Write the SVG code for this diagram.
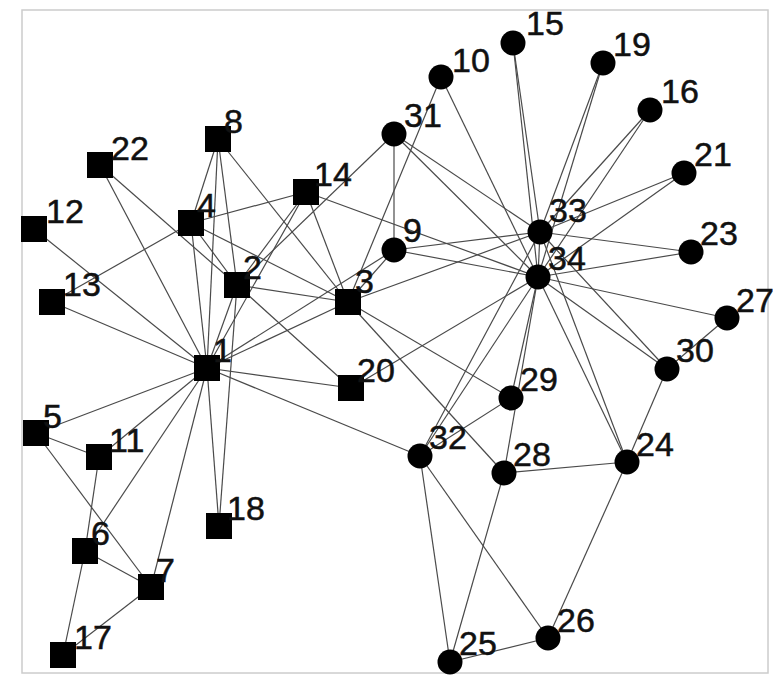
<svg xmlns="http://www.w3.org/2000/svg" width="773" height="675" viewBox="0 0 773 675">
<style>
.e{stroke:#4a4a4a;stroke-width:1.2;fill:none}
.s{fill:#000}
.c{fill:#000}
text{font-family:"Liberation Sans",Arial,sans-serif;font-size:34px;fill:#111;stroke:#111;stroke-width:0.5}
</style>
<rect width="773" height="675" fill="#fff"/>
<rect x="22" y="10" width="746" height="663" fill="none" stroke="#ccc" stroke-width="1.5"/>
<g id="edges" class="e">
<line x1="207" y1="368" x2="237" y2="285"/>
<line x1="207" y1="368" x2="348" y2="302"/>
<line x1="207" y1="368" x2="191" y2="223"/>
<line x1="207" y1="368" x2="36" y2="433"/>
<line x1="207" y1="368" x2="85" y2="551"/>
<line x1="207" y1="368" x2="151" y2="587"/>
<line x1="207" y1="368" x2="218" y2="139"/>
<line x1="207" y1="368" x2="394" y2="250"/>
<line x1="207" y1="368" x2="99" y2="457"/>
<line x1="207" y1="368" x2="34" y2="229"/>
<line x1="207" y1="368" x2="52" y2="302"/>
<line x1="207" y1="368" x2="306" y2="192"/>
<line x1="207" y1="368" x2="219" y2="526"/>
<line x1="207" y1="368" x2="351" y2="388"/>
<line x1="207" y1="368" x2="100" y2="165"/>
<line x1="207" y1="368" x2="420" y2="456"/>
<line x1="237" y1="285" x2="348" y2="302"/>
<line x1="237" y1="285" x2="191" y2="223"/>
<line x1="237" y1="285" x2="218" y2="139"/>
<line x1="237" y1="285" x2="306" y2="192"/>
<line x1="237" y1="285" x2="219" y2="526"/>
<line x1="237" y1="285" x2="351" y2="388"/>
<line x1="237" y1="285" x2="100" y2="165"/>
<line x1="237" y1="285" x2="394" y2="134"/>
<line x1="348" y1="302" x2="191" y2="223"/>
<line x1="348" y1="302" x2="218" y2="139"/>
<line x1="348" y1="302" x2="394" y2="250"/>
<line x1="348" y1="302" x2="441" y2="77"/>
<line x1="348" y1="302" x2="306" y2="192"/>
<line x1="348" y1="302" x2="504" y2="473"/>
<line x1="348" y1="302" x2="511" y2="398"/>
<line x1="348" y1="302" x2="540" y2="232"/>
<line x1="191" y1="223" x2="218" y2="139"/>
<line x1="191" y1="223" x2="52" y2="302"/>
<line x1="191" y1="223" x2="306" y2="192"/>
<line x1="36" y1="433" x2="151" y2="587"/>
<line x1="36" y1="433" x2="99" y2="457"/>
<line x1="85" y1="551" x2="151" y2="587"/>
<line x1="85" y1="551" x2="99" y2="457"/>
<line x1="85" y1="551" x2="63" y2="655"/>
<line x1="151" y1="587" x2="63" y2="655"/>
<line x1="394" y1="250" x2="394" y2="134"/>
<line x1="394" y1="250" x2="540" y2="232"/>
<line x1="394" y1="250" x2="538" y2="277"/>
<line x1="441" y1="77" x2="538" y2="277"/>
<line x1="306" y1="192" x2="538" y2="277"/>
<line x1="513" y1="43" x2="540" y2="232"/>
<line x1="513" y1="43" x2="538" y2="277"/>
<line x1="650" y1="110" x2="540" y2="232"/>
<line x1="650" y1="110" x2="538" y2="277"/>
<line x1="603" y1="63" x2="540" y2="232"/>
<line x1="603" y1="63" x2="538" y2="277"/>
<line x1="351" y1="388" x2="538" y2="277"/>
<line x1="684" y1="173" x2="540" y2="232"/>
<line x1="684" y1="173" x2="538" y2="277"/>
<line x1="691" y1="252" x2="540" y2="232"/>
<line x1="691" y1="252" x2="538" y2="277"/>
<line x1="627" y1="462" x2="548" y2="638"/>
<line x1="627" y1="462" x2="504" y2="473"/>
<line x1="627" y1="462" x2="667" y2="369"/>
<line x1="627" y1="462" x2="540" y2="232"/>
<line x1="627" y1="462" x2="538" y2="277"/>
<line x1="450" y1="662" x2="548" y2="638"/>
<line x1="450" y1="662" x2="504" y2="473"/>
<line x1="450" y1="662" x2="420" y2="456"/>
<line x1="548" y1="638" x2="420" y2="456"/>
<line x1="727" y1="318" x2="667" y2="369"/>
<line x1="727" y1="318" x2="538" y2="277"/>
<line x1="504" y1="473" x2="538" y2="277"/>
<line x1="511" y1="398" x2="420" y2="456"/>
<line x1="511" y1="398" x2="538" y2="277"/>
<line x1="667" y1="369" x2="540" y2="232"/>
<line x1="667" y1="369" x2="538" y2="277"/>
<line x1="394" y1="134" x2="540" y2="232"/>
<line x1="394" y1="134" x2="538" y2="277"/>
<line x1="420" y1="456" x2="540" y2="232"/>
<line x1="420" y1="456" x2="538" y2="277"/>
<line x1="540" y1="232" x2="538" y2="277"/>
</g>
<g id="n1"><rect class="s" x="194" y="355" width="26" height="26"/><text x="213" y="362">1</text></g>
<g id="n2"><rect class="s" x="224" y="272" width="26" height="26"/><text x="243" y="279">2</text></g>
<g id="n3"><rect class="s" x="335" y="289" width="26" height="26"/><text x="355" y="293">3</text></g>
<g id="n4"><rect class="s" x="178" y="210" width="26" height="26"/><text x="197" y="217">4</text></g>
<g id="n5"><rect class="s" x="23" y="420" width="26" height="26"/><text x="43" y="428">5</text></g>
<g id="n6"><rect class="s" x="72" y="538" width="26" height="26"/><text x="91" y="545">6</text></g>
<g id="n7"><rect class="s" x="138" y="574" width="26" height="26"/><text x="156" y="582">7</text></g>
<g id="n8"><rect class="s" x="205" y="126" width="26" height="26"/><text x="224" y="133">8</text></g>
<g id="n9"><circle class="c" cx="394" cy="250" r="12.5"/><text x="403" y="242">9</text></g>
<g id="n10"><circle class="c" cx="441" cy="77" r="12.5"/><text x="452" y="72">10</text></g>
<g id="n11"><rect class="s" x="86" y="444" width="26" height="26"/><text x="109" y="452">11</text></g>
<g id="n12"><rect class="s" x="21" y="216" width="26" height="26"/><text x="46" y="223">12</text></g>
<g id="n13"><rect class="s" x="39" y="289" width="26" height="26"/><text x="63" y="296">13</text></g>
<g id="n14"><rect class="s" x="293" y="179" width="26" height="26"/><text x="314" y="186">14</text></g>
<g id="n15"><circle class="c" cx="513" cy="43" r="12.5"/><text x="526" y="35">15</text></g>
<g id="n16"><circle class="c" cx="650" cy="110" r="12.5"/><text x="661" y="103">16</text></g>
<g id="n17"><rect class="s" x="50" y="642" width="26" height="26"/><text x="74" y="649">17</text></g>
<g id="n18"><rect class="s" x="206" y="513" width="26" height="26"/><text x="227" y="520">18</text></g>
<g id="n19"><circle class="c" cx="603" cy="63" r="12.5"/><text x="613" y="56">19</text></g>
<g id="n20"><rect class="s" x="338" y="375" width="26" height="26"/><text x="357" y="382">20</text></g>
<g id="n21"><circle class="c" cx="684" cy="173" r="12.5"/><text x="694" y="166">21</text></g>
<g id="n22"><rect class="s" x="87" y="152" width="26" height="26"/><text x="111" y="160">22</text></g>
<g id="n23"><circle class="c" cx="691" cy="252" r="12.5"/><text x="700" y="245">23</text></g>
<g id="n24"><circle class="c" cx="627" cy="462" r="12.5"/><text x="636" y="456">24</text></g>
<g id="n25"><circle class="c" cx="450" cy="662" r="12.5"/><text x="459" y="655">25</text></g>
<g id="n26"><circle class="c" cx="548" cy="638" r="12.5"/><text x="557" y="632">26</text></g>
<g id="n27"><circle class="c" cx="727" cy="318" r="12.5"/><text x="736" y="312">27</text></g>
<g id="n28"><circle class="c" cx="504" cy="473" r="12.5"/><text x="513" y="466">28</text></g>
<g id="n29"><circle class="c" cx="511" cy="398" r="12.5"/><text x="520" y="391">29</text></g>
<g id="n30"><circle class="c" cx="667" cy="369" r="12.5"/><text x="676" y="362">30</text></g>
<g id="n31"><circle class="c" cx="394" cy="134" r="12.5"/><text x="404" y="127">31</text></g>
<g id="n32"><circle class="c" cx="420" cy="456" r="12.5"/><text x="429" y="449">32</text></g>
<g id="n33"><circle class="c" cx="540" cy="232" r="12.5"/><text x="549" y="222">33</text></g>
<g id="n34"><circle class="c" cx="538" cy="277" r="12.5"/><text x="548" y="270">34</text></g>
</svg>
